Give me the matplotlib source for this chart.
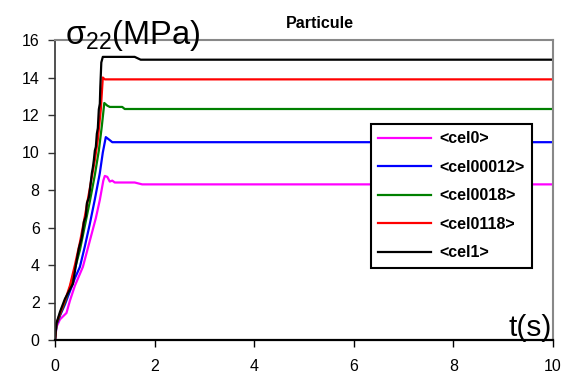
import matplotlib
matplotlib.use("Agg")
import matplotlib.pyplot as plt

plt.rcParams['font.family'] = ['Liberation Sans', 'DejaVu Sans']

# stress curves sigma_22 (MPa) vs time t (s)
t_cel0 = [0, 0.03, 0.1, 0.23, 0.3, 0.4, 0.56, 0.65, 0.74, 0.82, 0.9, 0.97, 1.0, 1.05, 1.1, 1.15, 1.2, 1.6, 1.75, 10]
s_cel0 = [0, 0.7, 1.1, 1.44, 2.1, 2.9, 3.9, 4.8, 5.7, 6.5, 7.47, 8.5, 8.75, 8.7, 8.45, 8.5, 8.4, 8.4, 8.3, 8.3]

t_cel00012 = [0, 0.03, 0.1, 0.2, 0.3, 0.4, 0.5, 0.6, 0.7, 0.8, 0.9, 0.96, 1.02, 1.08, 1.15, 10]
s_cel00012 = [0, 0.8, 1.3, 1.9, 2.6, 3.3, 3.9, 5.0, 6.2, 7.5, 8.9, 10.0, 10.82, 10.7, 10.55, 10.55]

t_cel0018 = [0, 0.03, 0.1, 0.2, 0.3, 0.4, 0.5, 0.6, 0.7, 0.8, 0.88, 0.94, 0.99, 1.05, 1.1, 1.35, 1.4, 10]
s_cel0018 = [0, 0.85, 1.35, 2.0, 2.8, 3.8, 4.8, 6.1, 7.4, 8.8, 10.1, 11.4, 12.64, 12.5, 12.43, 12.43, 12.32, 12.32]

t_cel0118 = [0, 0.03, 0.1, 0.2, 0.3, 0.4, 0.5, 0.6, 0.7, 0.8, 0.86, 0.92, 0.96, 1.0, 10]
s_cel0118 = [0, 0.9, 1.4, 2.1, 2.9, 4.0, 5.2, 6.6, 8.1, 9.6, 10.7, 12.3, 14.0, 13.9, 13.9]

t_cel1 = [0, 0.03, 0.1, 0.2, 0.3, 0.36, 0.42, 0.48, 0.54, 0.58, 0.62, 0.64, 0.68, 0.70, 0.74, 0.76,
          0.78, 0.80, 0.82, 0.84, 0.86, 0.88, 0.90, 0.91, 0.93, 0.96, 1.6, 1.72, 10]
s_cel1 = [0, 0.9, 1.5, 2.2, 2.7, 3.0, 4.0, 4.9, 5.5, 6.3, 6.6, 7.3, 7.6, 8.0, 8.9, 9.2,
          9.6, 10.1, 10.3, 11.0, 11.3, 12.3, 12.6, 13.5, 14.8, 15.1, 15.1, 14.95, 14.95]

labels = ['<cel0>', '<cel00012>', '<cel0018>', '<cel0118>', '<cel1>']
colors = ['#ff00ff', '#0000ff', '#008000', '#ff0000', '#000000']
series = [(t_cel0, s_cel0), (t_cel00012, s_cel00012), (t_cel0018, s_cel0018),
          (t_cel0118, s_cel0118), (t_cel1, s_cel1)]

xticks = [0, 2, 4, 6, 8, 10]
yticks = [0, 2, 4, 6, 8, 10, 12, 14, 16]

fig = plt.figure(figsize=(5.74, 3.81), dpi=100)
ax = fig.add_axes([55/574, 1-340/381, 498/574, 300/381])

for (t, s), lab, c in zip(series, labels, colors):
    ax.plot(t, s, color=c, lw=1.6, label=lab)

ax.set_xlim(0, 10)
ax.set_ylim(0, 16)
ax.set_xticks(xticks)
ax.set_yticks(yticks)
ax.tick_params(axis='both', direction='out', length=5, width=1, labelsize=11.5, colors='black')
ax.tick_params(axis='y', pad=6, color='#333333')
ax.tick_params(axis='x', pad=9)

ax.spines['top'].set_color('#888888')
ax.spines['right'].set_color('#888888')
ax.spines['top'].set_linewidth(1.5)
ax.spines['right'].set_linewidth(1.5)
ax.spines['left'].set_color('#333333')
ax.spines['left'].set_linewidth(1.2)
ax.spines['bottom'].set_color('black')
ax.spines['bottom'].set_linewidth(1.6)

ax.text(0.02, 0.987, 'σ$_{\\mathregular{22}}$(MPa)', transform=ax.transAxes,
        fontsize=23.5, ha='left', va='baseline')
ax.text(0.998, 0.013, 't(s)', transform=ax.transAxes,
        fontsize=21.5, ha='right', va='baseline')
fig.text(320/574, 1-28/381, 'Particule', fontsize=11.5, fontweight='bold',
         ha='center', va='baseline')

leg = ax.legend(loc='upper left', bbox_to_anchor=(0.6345, 0.72),
                prop={'weight': 'bold', 'size': 11.5}, frameon=True, fancybox=False,
                handlelength=3.3, labelspacing=0.85, borderpad=0.45, handletextpad=0.55,
                borderaxespad=0)
leg.get_frame().set_edgecolor('black')
leg.get_frame().set_linewidth(1.5)
leg.get_frame().set_alpha(1)

fig.savefig('out.png', dpi=100)
